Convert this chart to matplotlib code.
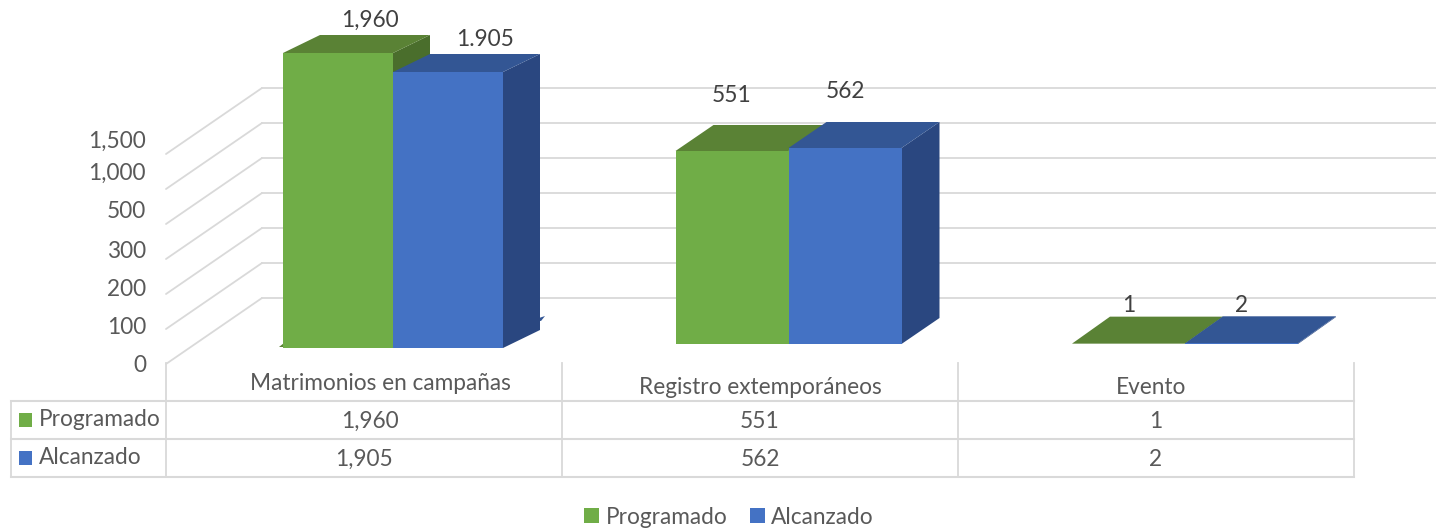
import numpy as np
import matplotlib
matplotlib.use('Agg')
import matplotlib.pyplot as plt
from matplotlib.patches import Polygon, Patch

plt.rcParams['font.family'] = ['Lato', 'DejaVu Sans']

#--------------------------Data------------------------------------------------------

categories = ['Matrimonios en campañas', 'Registro extemporáneos', 'Evento']
series_names = ['Programado', 'Alcanzado']
programado = [1960, 551, 1]
alcanzado = [1905, 562, 2]
bar_labels_prog = ['1,960', '551', '1']
bar_labels_alc = ['1.905', '562', '2']      # the dot is in the original
axis_ticks = [0, 100, 200, 300, 500, 1000, 1500]

#--------------------------Scales (the axis of the original is not linear)-----------

def knot_scale(values, units):
    values = np.array(values, dtype=float)
    units = np.array(units, dtype=float)
    return (lambda v: np.interp(v, values, units), lambda u: np.interp(u, units, values))

wall_scale = knot_scale(axis_ticks, [0, 35, 70, 105, 140, 175, 210])
label_scale = knot_scale(axis_ticks, [0, 38, 76, 114, 153, 192, 224])
bar_scale = knot_scale([0, 551, 562, 1905, 1960, 2200], [0, 193, 196, 276, 295, 320])

#--------------------------Layout in image pixels------------------------------------

W, H = 1436, 528
GREEN, GREEN_TOP, GREEN_SIDE = '#70AD47', '#5A8235', '#4A6E2C'
BLUE, BLUE_TOP, BLUE_SIDE = '#4472C4', '#335694', '#2A4780'
GRID = '#D9D9D9'
TEXT = '#595959'
LABEL = '#404040'
FS = 16.3

group_x = [393, 788.5, 1185]
group_base = [348, 344, 344]
bar_w = [110, 113, 113]
depth = [(37, 18), (38, 26), (38, 27)]
label_dx = [(32, 37), (0, 0), (0, 0)]
label_dy = [(34, 34), (57, 58), (39, 39)]

def px_axes(left, right, top, bottom, zorder):
    ax = fig.add_axes([left / W, 1 - bottom / H, (right - left) / W, (bottom - top) / H], zorder=zorder)
    ax.patch.set_alpha(0)
    return ax

fig = plt.figure(figsize=(W / 100, H / 100), dpi=100)

ax_px = px_axes(0, W, 0, H, 1)          # polygons of the fake 3d
ax_px.set_xlim(0, W)
ax_px.set_ylim(H, 0)
ax_px.axis('off')

ax_top = px_axes(0, W, 0, H, 5)         # labels, table, legend
ax_top.set_xlim(0, W)
ax_top.set_ylim(H, 0)
ax_top.axis('off')

#--------------------------Back wall and its diagonals-------------------------------

ax_wall = px_axes(262, W, 88, 298, 0)
ax_wall.set_yscale('function', functions=wall_scale)
ax_wall.set_ylim(0, 1500)
ax_wall.set_xticks([])
ax_wall.set_yticks(axis_ticks)
ax_wall.tick_params(left=False, labelleft=False)
ax_wall.set_frame_on(False)
ax_wall.grid(axis='y', color=GRID, linewidth=1.3, clip_on=False)
ax_wall.set_axisbelow(True)

fig.canvas.draw()
for t in axis_ticks:
    back = ax_top.transData.inverted().transform(ax_wall.transData.transform((0, t)))
    front_y = back[1] + 66
    ax_px.plot([166, back[0]], [front_y, back[1]], color=GRID, lw=1.3, solid_capstyle='round')

ax_lab = px_axes(146, 147, 139, 363, 1)
ax_lab.set_yscale('function', functions=label_scale)
ax_lab.set_ylim(0, 1500)
ax_lab.set_xticks([])
ax_lab.set_yticks(axis_ticks)
ax_lab.set_yticklabels([f'{t:,}' for t in axis_ticks], fontsize=FS, color=TEXT)
ax_lab.tick_params(axis='y', length=0, pad=0)
ax_lab.set_frame_on(False)

#--------------------------Bars------------------------------------------------------

# leftovers of the floor next to the first group
ax_px.add_patch(Polygon([(279, 347), (284, 343), (284, 347)], color=GREEN_TOP, lw=0))
ax_px.add_patch(Polygon([(533, 320), (545, 316), (541, 321)], color=BLUE_TOP, lw=0))

for i in range(len(categories)):
    ax_bar = px_axes(0, W, group_base[i] - 320, group_base[i], 2)
    ax_bar.set_yscale('function', functions=bar_scale)
    ax_bar.set_ylim(0, 2200)
    ax_bar.set_xlim(0, W)
    ax_bar.axis('off')

    w = bar_w[i]
    dx, dy = depth[i]
    left_bar = [group_x[i] - w, group_x[i]]
    values = [programado[i], alcanzado[i]]
    texts = [bar_labels_prog[i], bar_labels_alc[i]]
    colors = [(GREEN, GREEN_TOP, GREEN_SIDE), (BLUE, BLUE_TOP, BLUE_SIDE)]

    for j in range(2):
        col, col_top, col_side = colors[j]
        ax_bar.bar(left_bar[j], values[j], width=w, align='edge', color=col, edgecolor='none')

        top = ax_top.transData.inverted().transform(ax_bar.transData.transform((0, values[j])))[1]
        base = group_base[i]
        x0, x1 = left_bar[j], left_bar[j] + w

        ax_px.add_patch(Polygon([(x1, top), (x1 + dx, top - dy), (x1 + dx, base - dy), (x1, base)],
                                color=col_side, lw=0))
        ax_px.add_patch(Polygon([(x0, top), (x0 + dx, top - dy), (x1 + dx, top - dy), (x1, top)],
                                color=col_top, lw=0))

        ax_top.text((x0 + x1) / 2 + label_dx[i][j], top - label_dy[i][j] + 1, texts[j], fontsize=FS,
                    color=LABEL, ha='center', va='center')

#--------------------------Data table------------------------------------------------

col_x = [166, 562, 958, 1354]
row_y = [401, 439, 477]
for y in row_y:
    ax_top.plot([11, col_x[-1]], [y, y], color=GRID, lw=1.5)
for x in col_x:
    ax_top.plot([x, x], [363, row_y[-1]], color=GRID, lw=1.3)
ax_top.plot([11, 11], [row_y[0], row_y[-1]], color=GRID, lw=1.3)

head_x = [380, 760, 1151]
head_y = [383, 388, 388]
for i, name in enumerate(categories):
    ax_top.text(head_x[i], head_y[i], name, fontsize=FS, color=TEXT, ha='center', va='center')

val_x = [[370, 760, 1156], [364, 760, 1156]]
for r, vals in enumerate([programado, alcanzado]):
    y = 420 + 38 * r
    for c, v in enumerate(vals):
        ax_top.text(val_x[r][c], y + 1, f'{v:,}', fontsize=FS, color=TEXT, ha='center', va='center')
    ax_top.add_patch(Polygon([(19, y - 7), (32, y - 7), (32, y + 7), (19, y + 7)],
                             color=[GREEN, BLUE][r], lw=0))
    ax_top.text(39, y, series_names[r], fontsize=FS, color=TEXT, ha='left', va='center')

#--------------------------Legend----------------------------------------------------

handles = [Patch(color=GREEN, lw=0), Patch(color=BLUE, lw=0)]
fig.legend(handles, series_names, ncol=2, frameon=False, loc='center',
           bbox_to_anchor=(729 / W, 1 - 517 / H), fontsize=FS, labelcolor=TEXT,
           handlelength=0.65, handleheight=0.65, handletextpad=0.28, columnspacing=1.0)

fig.savefig('out.png', dpi=100)
